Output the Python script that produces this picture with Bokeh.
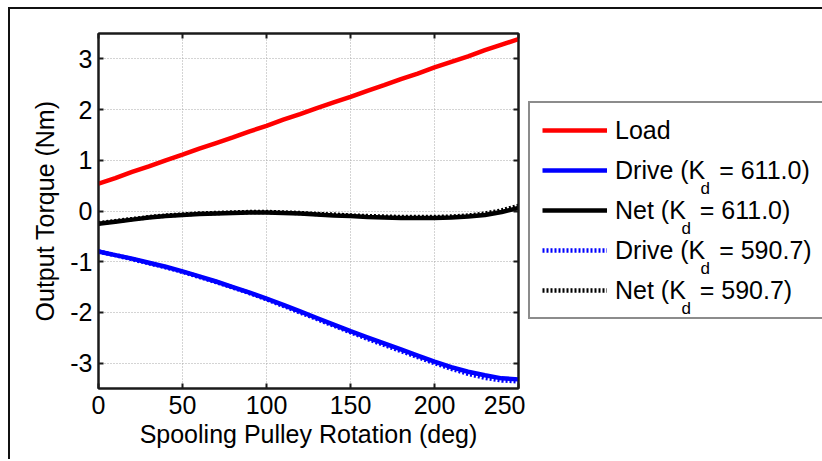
from bokeh.plotting import figure
from bokeh.layouts import row
from bokeh.models import (Legend, LegendItem, LinearAxis, FixedTicker, Label, Range1d,
                          PrintfTickFormatter, CustomJSTickFormatter)
from bokeh.embed import file_html
from bokeh.resources import INLINE

# ---- data ----
angle_deg = [0, 10, 20, 30, 40, 50, 60, 70, 80, 90, 100, 110, 120, 130, 140, 150,
             160, 170, 180, 190, 200, 210, 220, 230, 240, 250]
load = [0.54, 0.65, 0.77, 0.88, 1.00, 1.11, 1.23, 1.34, 1.45, 1.57, 1.68, 1.80, 1.91,
        2.03, 2.14, 2.25, 2.37, 2.48, 2.60, 2.71, 2.83, 2.94, 3.05, 3.17, 3.28, 3.39]
drive_611 = [-0.80, -0.87, -0.94, -1.02, -1.10, -1.19, -1.29, -1.39, -1.50, -1.61, -1.73,
             -1.85, -1.98, -2.11, -2.24, -2.37, -2.49, -2.61, -2.73, -2.85, -2.97, -3.08,
             -3.17, -3.24, -3.30, -3.32]
net_611 = [-0.25, -0.21, -0.17, -0.13, -0.10, -0.08, -0.06, -0.05, -0.04, -0.03, -0.03,
           -0.04, -0.05, -0.07, -0.09, -0.10, -0.12, -0.13, -0.14, -0.14, -0.14, -0.13,
           -0.11, -0.08, -0.02, 0.06]
drive_590 = [-0.80, -0.87, -0.95, -1.03, -1.11, -1.20, -1.30, -1.40, -1.51, -1.62, -1.74,
             -1.87, -2.00, -2.13, -2.26, -2.39, -2.52, -2.64, -2.76, -2.88, -3.00, -3.11,
             -3.21, -3.29, -3.34, -3.36]
net_590 = [-0.24, -0.20, -0.16, -0.12, -0.09, -0.07, -0.05, -0.04, -0.03, -0.02, -0.02,
           -0.03, -0.04, -0.06, -0.07, -0.09, -0.10, -0.11, -0.12, -0.12, -0.12, -0.11,
           -0.09, -0.05, 0.01, 0.10]
x_ticks = [0, 50, 100, 150, 200, 250]
y_ticks = [-3, -2, -1, 0, 1, 2, 3]
legend_labels = ["Load", "Drive (K  = 611.0)", "Net (K  = 611.0)",
                 "Drive (K  = 590.7)", "Net (K  = 590.7)"]
series_colors = ["#ff0000", "#0000ff", "#000000", "#0000ff", "#000000"]
series_dash = ["solid", "solid", "solid", "2 2", "2 2"]
x_label = "Spooling Pulley Rotation (deg)"
y_label = "Output Torque (Nm)"

FONT = "Liberation Sans"
AX = "#1a1a1a"
H = 450
TOP, BOTTOM = 24, 71
LINE_W = 4.5

p = figure(width=515, height=H, output_backend="svg", toolbar_location=None, title=None,
           x_range=Range1d(0, 250), y_range=Range1d(-3.5, 3.5),
           x_axis_location=None, y_axis_location=None,
           min_border_left=88, min_border_right=7, min_border_top=TOP,
           min_border_bottom=BOTTOM)
p.outline_line_color = AX
p.outline_line_width = 2
p.background_fill_color = "white"
p.border_fill_color = "white"

def make_axis(show_labels, label=None):
    ax = LinearAxis()
    ax.axis_line_color = AX
    ax.axis_line_width = 2
    ax.major_tick_line_color = AX
    ax.major_tick_line_width = 2
    ax.major_tick_in = 5
    ax.major_tick_out = 0
    ax.minor_tick_line_color = None
    if show_labels:
        ax.formatter = PrintfTickFormatter(format="%d")
        ax.major_label_text_font = FONT
        ax.major_label_text_font_size = "25px"
        ax.major_label_text_color = "black"
        ax.axis_label = label
        ax.axis_label_text_font = FONT
        ax.axis_label_text_font_size = "25px"
        ax.axis_label_text_font_style = "normal"
        ax.axis_label_text_color = "black"
    else:
        ax.formatter = CustomJSTickFormatter(code="return ''")
        ax.major_label_standoff = 0
    return ax

xb = make_axis(True, x_label)
xb.ticker = FixedTicker(ticks=x_ticks)
xb.major_label_standoff = 7
xb.axis_label_standoff = 3
yl = make_axis(True, y_label)
yl.ticker = FixedTicker(ticks=y_ticks)
yl.major_label_standoff = 6
yl.axis_label_standoff = 8
xt = make_axis(False)
xt.ticker = FixedTicker(ticks=x_ticks)
yr = make_axis(False)
yr.ticker = FixedTicker(ticks=y_ticks)
p.add_layout(xb, "below")
p.add_layout(yl, "left")
p.add_layout(xt, "above")
p.add_layout(yr, "right")

p.xgrid.ticker = FixedTicker(ticks=x_ticks)
p.ygrid.ticker = FixedTicker(ticks=y_ticks)
for g in (p.xgrid, p.ygrid):
    g.grid_line_color = "#a8a8a8"
    g.grid_line_dash = "1 2"
    g.grid_line_width = 1

series = [load, drive_611, net_611, drive_590, net_590]
for ys, c, d in zip(series, series_colors, series_dash):
    p.line(angle_deg, ys, line_color=c, line_width=LINE_W, line_dash=d)

# ---- legend panel: same vertical borders as the main plot, frame in pixel units ----
LW = 297
FW, FH = LW - 3, H - TOP - BOTTOM
lf = figure(width=LW, height=H, output_backend="svg", toolbar_location=None, title=None,
            x_range=Range1d(0, FW), y_range=Range1d(0, FH),
            x_axis_location=None, y_axis_location=None,
            min_border_left=3, min_border_right=0,
            min_border_top=TOP, min_border_bottom=BOTTOM)
lf.grid.visible = False
lf.outline_line_color = None
lf.background_fill_color = "white"
lf.border_fill_color = "white"

# hidden copies of the series, used only as legend glyph styles
proxies = [lf.line(angle_deg, ys, line_color=c, line_width=LINE_W, line_dash=d, visible=False)
           for ys, c, d in zip(series, series_colors, series_dash)]
legend = Legend(items=[LegendItem(label=lab, renderers=[r]) for lab, r in zip(legend_labels, proxies)],
                location=(0, 69), padding=12, spacing=10, label_height=30, glyph_height=30,
                glyph_width=65, label_standoff=8, label_text_font=FONT,
                label_text_font_size="25px", label_text_color="black",
                border_line_color=AX, border_line_width=2, margin=0,
                background_fill_alpha=0)
lf.add_layout(legend)

# subscript "d" of K_d in the legend labels (frame pixels, y up)
sub_x = [172, 153, 172, 153]
sub_y = [200, 160, 120, 80]
for sx, sy in zip(sub_x, sub_y):
    lf.add_layout(Label(x=sx, y=sy, text="d", text_font=FONT, text_font_size="17px",
                        text_color="black", text_baseline="alphabetic"))

layout = row(p, lf, styles={"margin-left": "8px", "margin-top": "7px",
                             "border-top": "2px solid #111", "border-left": "2px solid #111"})

open("out.html", "w").write(file_html(layout, INLINE))
